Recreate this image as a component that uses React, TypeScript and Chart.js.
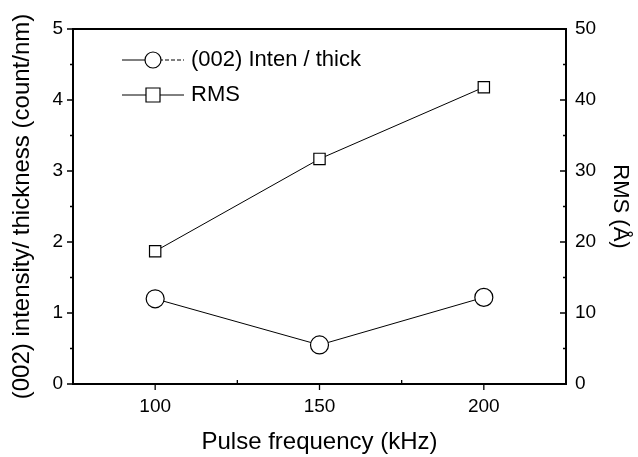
import React, { useEffect, useRef } from 'react';
import { Chart, registerables } from 'chart.js';

Chart.register(...registerables);

const frequencies = [100, 150, 200];
const intensityPerThickness = [1.2, 0.55, 1.22];
const rmsValues = [18.7, 31.7, 41.8];
const xMajorTicks = [100, 150, 200];
const xMinorTicks = [125, 175];
const leftMajorTicks = [0, 1, 2, 3, 4, 5];
const leftMinorTicks = [0.5, 1.5, 2.5, 3.5, 4.5];
const rightMajorTicks = [0, 10, 20, 30, 40, 50];
const rightMinorTicks = [5, 15, 25, 35, 45];
const seriesLabels = ['(002) Inten / thick', 'RMS'];
const xTitle = 'Pulse frequency (kHz)';
const leftTitle = '(002) intensity/ thickness (count/nm)';
const rightTitle = 'RMS (Å)';

const FONT = 'Arial, "Liberation Sans", Helvetica, sans-serif';

const framePlugin = {
  id: 'frameTicksLegend',
  afterDraw(chart: any) {
    const ctx = chart.ctx;
    const { left, right, top, bottom } = chart.chartArea;
    const xs = chart.scales.x;
    const yl = chart.scales.y;
    const yr = chart.scales.y1;
    ctx.save();
    ctx.strokeStyle = '#000';
    ctx.lineWidth = 2;
    ctx.beginPath();
    ctx.moveTo(left, top);
    ctx.lineTo(right, top);
    ctx.lineTo(right, bottom);
    ctx.lineTo(left, bottom);
    ctx.closePath();
    ctx.stroke();
    ctx.lineWidth = 1.3;
    ctx.beginPath();
    xMajorTicks.forEach((v) => {
      const x = xs.getPixelForValue(v);
      ctx.moveTo(x, bottom);
      ctx.lineTo(x, bottom + 6);
    });
    xMinorTicks.forEach((v) => {
      const x = xs.getPixelForValue(v);
      ctx.moveTo(x, bottom);
      ctx.lineTo(x, bottom - 4);
    });
    leftMajorTicks.forEach((v) => {
      const y = yl.getPixelForValue(v);
      ctx.moveTo(left, y);
      ctx.lineTo(left - 6, y);
    });
    leftMinorTicks.forEach((v) => {
      const y = yl.getPixelForValue(v);
      ctx.moveTo(left, y);
      ctx.lineTo(left - 3, y);
    });
    rightMajorTicks.forEach((v) => {
      const y = yr.getPixelForValue(v);
      ctx.moveTo(right, y);
      ctx.lineTo(right - 6, y);
    });
    rightMinorTicks.forEach((v) => {
      const y = yr.getPixelForValue(v);
      ctx.moveTo(right, y);
      ctx.lineTo(right - 3, y);
    });
    ctx.stroke();

    // legend
    const lx0 = left + 49;
    const lx1 = left + 111;
    const mx = left + 80;
    const rows = [top + 31, top + 66];
    ctx.font = '22px ' + FONT;
    ctx.fillStyle = '#000';
    ctx.textBaseline = 'middle';
    ctx.textAlign = 'left';
    chart.data.datasets.forEach((ds: any, i: number) => {
      const y = rows[i];
      ctx.lineWidth = 1;
      ctx.strokeStyle = '#000';
      ctx.beginPath();
      ctx.moveTo(lx0, y);
      ctx.lineTo(mx, y);
      ctx.stroke();
      if (ds.pointStyle === 'circle') ctx.setLineDash([4, 2]);
      ctx.beginPath();
      ctx.moveTo(mx, y);
      ctx.lineTo(lx1, y);
      ctx.stroke();
      ctx.setLineDash([]);
      ctx.fillStyle = '#fff';
      ctx.lineWidth = 1.2;
      ctx.beginPath();
      if (ds.pointStyle === 'circle') {
        ctx.arc(mx, y, 8, 0, Math.PI * 2);
      } else {
        ctx.rect(mx - 7, y - 7, 14, 14);
      }
      ctx.fill();
      ctx.stroke();
      ctx.fillStyle = '#000';
      ctx.fillText(ds.label, lx1 + 7, y);
    });
    ctx.restore();
  },
};

export default function App() {
  const ref = useRef<HTMLCanvasElement | null>(null);
  useEffect(() => {
    document.body.style.margin = '0';
    const canvas = ref.current;
    if (!canvas) return;
    const chart = new Chart(canvas, {
      type: 'line',
      data: {
        datasets: [
          {
            label: seriesLabels[0],
            data: frequencies.map((f, i) => ({ x: f, y: intensityPerThickness[i] })),
            yAxisID: 'y',
            borderColor: '#000',
            borderWidth: 1,
            backgroundColor: '#fff',
            pointStyle: 'circle',
            pointRadius: 9,
            pointBorderWidth: 1.2,
            pointBorderColor: '#000',
            pointBackgroundColor: '#fff',
            tension: 0,
          },
          {
            label: seriesLabels[1],
            data: frequencies.map((f, i) => ({ x: f, y: rmsValues[i] })),
            yAxisID: 'y1',
            borderColor: '#000',
            borderWidth: 1,
            backgroundColor: '#fff',
            pointStyle: 'rect',
            pointRadius: 8,
            pointBorderWidth: 1.2,
            pointBorderColor: '#000',
            pointBackgroundColor: '#fff',
            tension: 0,
          },
        ],
      },
      options: {
        responsive: false,
        animation: false,
        layout: { padding: { top: 29, left: 0, right: 0, bottom: 0 } },
        plugins: { legend: { display: false }, tooltip: { enabled: false } },
        scales: {
          x: {
            type: 'linear',
            min: 75,
            max: 225,
            afterBuildTicks: (s: any) => {
              s.ticks = xMajorTicks.map((v) => ({ value: v }));
            },
            afterFit: (s: any) => {
              s.height = 73;
            },
            grid: { display: false, drawTicks: false },
            border: { display: false },
            ticks: { color: '#000', font: { size: 19, family: FONT }, padding: 11 },
            title: {
              display: true,
              text: xTitle,
              color: '#000',
              font: { size: 24, family: FONT },
              padding: { top: 0, bottom: 0 },
            },
          },
          y: {
            type: 'linear',
            position: 'left',
            min: 0,
            max: 5,
            afterBuildTicks: (s: any) => {
              s.ticks = leftMajorTicks.map((v) => ({ value: v }));
            },
            afterFit: (s: any) => {
              s.width = 73;
            },
            grid: { display: false, drawTicks: false },
            border: { display: false },
            ticks: { color: '#000', font: { size: 19, family: FONT }, padding: 10 },
            title: {
              display: true,
              text: leftTitle,
              color: '#000',
              font: { size: 24, family: FONT },
              padding: { top: 8, bottom: 0 },
            },
          },
          y1: {
            type: 'linear',
            position: 'right',
            min: 0,
            max: 50,
            afterBuildTicks: (s: any) => {
              s.ticks = rightMajorTicks.map((v) => ({ value: v }));
            },
            afterFit: (s: any) => {
              s.width = 72;
            },
            grid: { display: false, drawTicks: false },
            border: { display: false },
            ticks: { color: '#000', font: { size: 19, family: FONT }, padding: 9 },
            title: {
              display: true,
              text: rightTitle,
              color: '#000',
              font: { size: 22, family: FONT },
              padding: { top: 5, bottom: 0 },
            },
          },
        },
      },
      plugins: [framePlugin],
    });
    return () => chart.destroy();
  }, []);
  return (
    <div style={{ position: 'fixed', left: 0, top: 0, width: 638, height: 457, background: '#fff' }}>
      <canvas ref={ref} width={638} height={457} style={{ width: 638, height: 457, display: 'block' }} />
    </div>
  );
}
